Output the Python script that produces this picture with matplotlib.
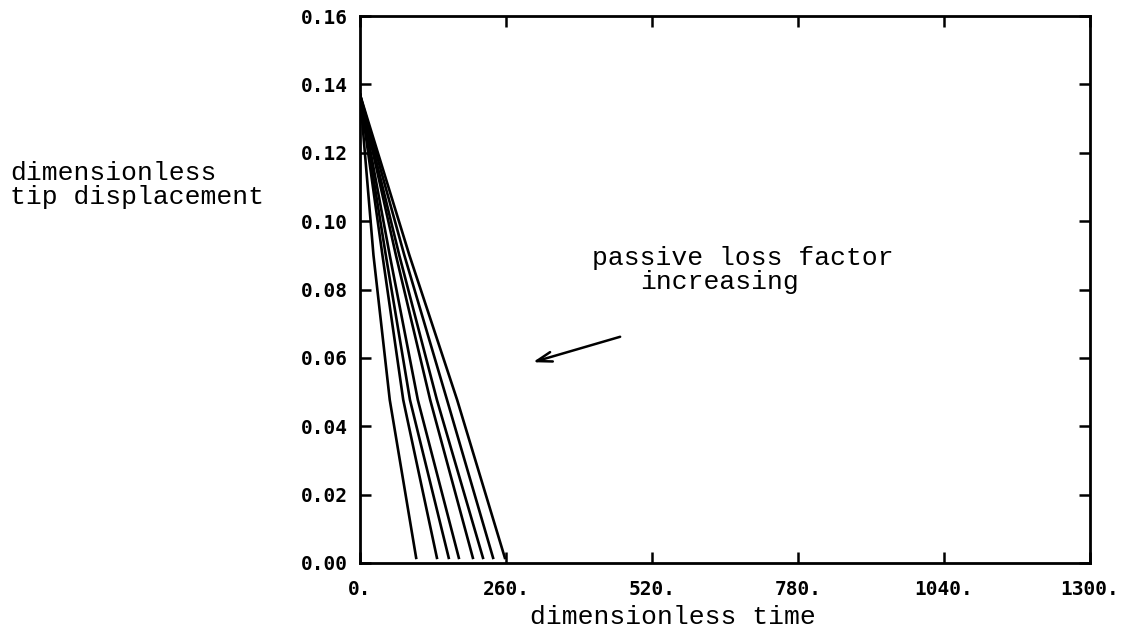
import matplotlib.pyplot as plt

# curves: each passes through these displacement levels
disp_levels = [0.137, 0.09, 0.0477, 0.0015]
time_curves = [
    [0, 24, 53, 100],
    [0, 40, 77, 137],
    [0, 46, 89, 158],
    [0, 53, 103, 176],
    [0, 64, 125, 201],
    [0, 70, 137, 219],
    [0, 79, 155, 237],
    [0, 88, 173, 258],
]

xticks = [0, 260, 520, 780, 1040, 1300]
xtick_labels = ['0.', '260.', '520.', '780.', '1040.', '1300.']
yticks = [0.00, 0.02, 0.04, 0.06, 0.08, 0.10, 0.12, 0.14, 0.16]
ytick_labels = ['%.2f' % v for v in yticks]

typewriter = 'Liberation Mono'
tickfont = {'family': 'DejaVu Sans Mono', 'weight': 'bold', 'size': 14}

fig = plt.figure(figsize=(11.25, 6.35), dpi=100)
ax = fig.add_axes([360/1125, 1 - 563/635, 730/1125, 547/635])

for tc in time_curves:
    ax.plot(tc, disp_levels, color='black', lw=1.9)

ax.set_xlim(0, 1300)
ax.set_ylim(0, 0.16)
ax.set_xticks(xticks)
ax.set_xticklabels(xtick_labels, fontdict=tickfont)
ax.set_yticks(yticks)
ax.set_yticklabels(ytick_labels, fontdict=tickfont)
ax.tick_params(direction='in', length=8, width=1.8, top=True, right=True, pad=9)
ax.tick_params(axis='x', pad=12)
for s in ax.spines.values():
    s.set_linewidth(2)

ax.annotate('', xy=(303, 0.0585), xytext=(468, 0.0664),
            arrowprops=dict(arrowstyle='->,head_length=1.1,head_width=0.35', lw=1.8, color='black'))
ax.text(682, 0.0892, 'passive loss factor', family=typewriter, fontsize=19,
        ha='center', va='center')
ax.text(641, 0.0822, 'increasing', family=typewriter, fontsize=19,
        ha='center', va='center')

fig.text(10/1125, 1 - 185/635, 'dimensionless\ntip displacement', family=typewriter,
         fontsize=19, ha='left', va='center', linespacing=1.05)
fig.text(673/1125, 1 - 617/635, 'dimensionless time', family=typewriter,
         fontsize=19, ha='center', va='center')

fig.savefig('out.png', dpi=100)
